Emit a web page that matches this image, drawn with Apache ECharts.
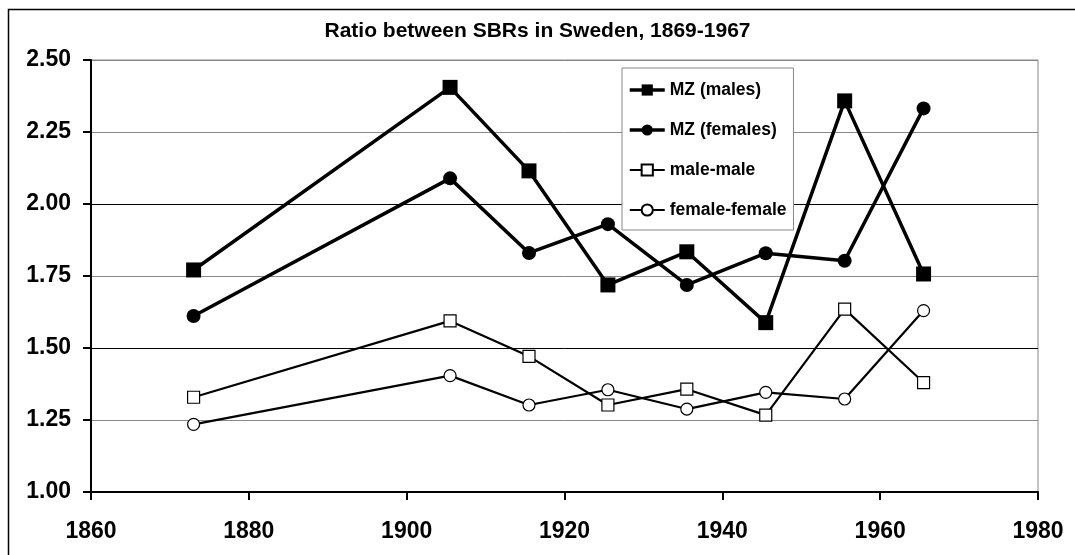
<!DOCTYPE html>
<html>
<head>
<meta charset="utf-8">
<script src="https://cdn.jsdelivr.net/npm/echarts@6/dist/echarts.min.js"></script>
<style>html,body{margin:0;padding:0;background:#fff}#c{width:1075px;height:555px}</style>
</head>
<body>
<div id="c"></div>
<script>
var titleText = 'Ratio between SBRs in Sweden, 1869-1967';
var years = [1873, 1905.5, 1915.5, 1925.5, 1935.5, 1945.5, 1955.5, 1965.5];
var seriesNames = ['MZ (males)', 'MZ (females)', 'male-male', 'female-female'];
var mzMales = [1.771, 2.405, 2.115, 1.719, 1.834, 1.588, 2.358, 1.757];
var mzFemales = [1.611, 2.089, 1.830, 1.930, 1.719, 1.829, 1.803, 2.332];
var maleMale = [1.329, 1.594, 1.471, 1.302, 1.357, 1.267, 1.635, 1.380];
var femaleFemale = [1.235, 1.404, 1.302, 1.355, 1.288, 1.346, 1.323, 1.630];

function pairs(v){ return years.map(function(y,i){ return [y, v[i]]; }); }

var font = 'Liberation Sans, Arial, sans-serif';
var chart = echarts.init(document.getElementById('c'), null, {renderer:'canvas'});
function mk(name, data, sym, size, filled, lw){
  return {
    name: name, type: 'line', data: pairs(data),
    symbol: sym, symbolSize: size, showSymbol: true,
    lineStyle: {color:'#000', width: lw},
    itemStyle: {color: filled ? '#000' : '#fff', borderColor:'#000', borderWidth: filled ? 0 : 1.2},
    emphasis: {disabled: true}, animation: false, z: filled ? 3 : 2
  };
}
chart.setOption({
  animation: false,
  backgroundColor: '#fff',
  title: {text: titleText, left: 'center', top: 21, padding: 0,
    textStyle: {fontFamily: font, fontWeight: 'bold', fontSize: 21, color: '#000'}},
  grid: {left: 91, right: 37, top: 60, bottom: 63, show: true, borderColor: '#888', borderWidth: 1, backgroundColor: 'transparent'},
  xAxis: {type: 'value', min: 1860, max: 1980, interval: 20,
    axisLine: {show: true, lineStyle: {color: '#000', width: 2}},
    axisTick: {show: true, inside: false, length: 8, lineStyle: {color: '#000', width: 2}},
    splitLine: {show: false},
    axisLabel: {margin: 28, fontFamily: font, fontWeight: 'bold', fontSize: 23, color: '#000',
      formatter: function(v){ return String(v); }}},
  yAxis: {type: 'value', min: 1, max: 2.5, interval: 0.25,
    axisLine: {show: true, lineStyle: {color: '#000', width: 2}},
    axisTick: {show: true, inside: false, length: 8, lineStyle: {color: '#000', width: 2}},
    splitLine: {show: true, lineStyle: {color: ['#888','#888','#000','#888','#000','#888','#888'], width: 1}},
    axisLabel: {margin: 20, fontFamily: font, fontWeight: 'bold', fontSize: 23, color: '#000',
      formatter: function(v){ return v.toFixed(2); }}},
  legend: {show: true, orient: 'vertical', left: 622, top: 68,
    data: [
      {name: seriesNames[0], lineStyle: {width: 3.5}},
      {name: seriesNames[1], lineStyle: {width: 3.5}},
      {name: seriesNames[2], lineStyle: {width: 2.2}},
      {name: seriesNames[3], lineStyle: {width: 2.2}}
    ],
    backgroundColor: '#fff', borderColor: '#888', borderWidth: 1,
    padding: [13, 7, 11, 6], itemGap: 22, itemWidth: 35, itemHeight: 14,
    textStyle: {fontFamily: font, fontWeight: 'bold', fontSize: 17.5, color: '#000'}},
  graphic: [{type: 'rect', shape: {x: 8.5, y: 9.5, width: 1200, height: 700},
    style: {fill: 'none', stroke: '#000', lineWidth: 1.5}, silent: true, z: 100}],
  series: [
    mk(seriesNames[0], mzMales, 'rect', 15, true, 3.5),
    mk(seriesNames[1], mzFemales, 'circle', 14, true, 3.5),
    mk(seriesNames[2], maleMale, 'rect', 12, false, 2.2),
    mk(seriesNames[3], femaleFemale, 'circle', 12, false, 2.2)
  ]
});
</script>
</body>
</html>
